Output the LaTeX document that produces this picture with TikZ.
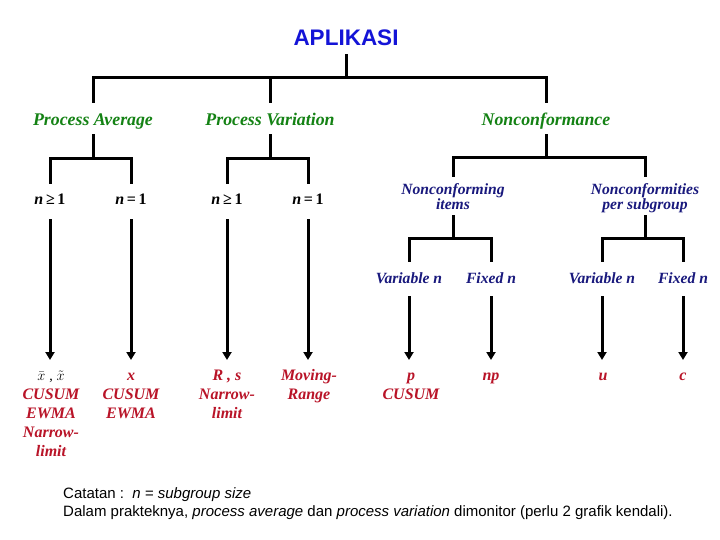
\documentclass[tikz,border=0pt]{standalone}
\usepackage{fontspec}
\setmainfont{Liberation Serif}
\setsansfont{Liberation Sans}
\usetikzlibrary{arrows.meta}
\definecolor{aplblue}{RGB}{20,20,215}
\definecolor{grn}{RGB}{20,130,20}
\definecolor{navy}{RGB}{25,25,125}
\definecolor{dred}{RGB}{185,20,40}
\tikzset{
  conn/.style={line width=3pt},
  arr/.style={line width=3pt,-{Triangle[width=9pt,length=8pt]}},
  toplab/.style={font=\sffamily\bfseries\fontsize{22.5}{25}\selectfont,text=aplblue,inner sep=0pt,anchor=base,text depth=8pt},
  cat/.style={font=\bfseries\itshape\fontsize{17.8}{20}\selectfont,text=grn,inner sep=0pt,anchor=base,text height=23pt,text depth=8pt},
  nlab/.style={font=\bfseries\fontsize{16}{18}\selectfont,inner sep=0pt,anchor=base,text height=21pt,text depth=14pt},
  sub/.style={font=\bfseries\itshape\fontsize{15.6}{15}\selectfont,text=navy,inner sep=0pt,align=center,anchor=north},
  leaf/.style={font=\bfseries\itshape\fontsize{15.6}{18}\selectfont,text=navy,inner sep=0pt,anchor=base,text height=21.5pt,text depth=12.5pt},
  res/.style={font=\bfseries\itshape\fontsize{16}{19}\selectfont,text=dred,inner sep=0pt,outer ysep=8pt,align=center,anchor=north},
  note/.style={font=\sffamily\fontsize{15}{18}\selectfont,inner sep=0pt,align=left,anchor=north west},
}
\newcommand{\topstrut}{\rule{0pt}{12pt}}
\begin{document}
\begin{tikzpicture}[x=1pt,y=-1pt]
\useasboundingbox[fill=white] (0,0) rectangle (720,540);
% root
\node[toplab] (apl) at (346,46) {APLIKASI};
% categories
\node[cat] (pa) at (93,126) {Process Average};
\node[cat] (pv) at (270,126) {Process Variation};
\node[cat] (nc) at (546,126) {Nonconformance};
% n labels
\node[nlab] (na1) at (50,205) {\textit{n}\,≥\,1};
\node[nlab] (na2) at (131,205) {\textit{n}\,=\,1};
\node[nlab] (nv1) at (227,205) {\textit{n}\,≥\,1};
\node[nlab] (nv2) at (308,205) {\textit{n}\,=\,1};
% nonconformance subtypes
\node[sub] (ni) at (453,177) {\rule{0pt}{17.5pt}Nonconforming\\items\rule[-5.5pt]{0pt}{5.5pt}};
\node[sub] (np) at (645,177) {\rule{0pt}{17.5pt}Nonconformities\\per subgroup\rule[-5.5pt]{0pt}{5.5pt}};
% leaves
\node[leaf] (v1) at (409,283.5) {Variable n};
\node[leaf] (f1) at (491,283.5) {Fixed n};
\node[leaf] (v2) at (602,283.5) {Variable n};
\node[leaf] (f2) at (683,283.5) {Fixed n};
% results
\node[res] (ra1) at (51,360) {\topstrut{\normalfont\color{black}\fontsize{14}{14}\selectfont$\bar{x}$\;,\;$\tilde{x}$}\\CUSUM\\EWMA\\Narrow-\\limit};
\node[res] (ra2) at (131,360) {\topstrut x\\CUSUM\\EWMA};
\node[res] (rv1) at (227,360) {\topstrut R , s\\Narrow-\\limit};
\node[res] (rv2) at (309,360) {\topstrut Moving-\\Range};
\node[res] (rp) at (411,360) {\topstrut p\\CUSUM};
\node[res] (rnp) at (491,360) {\topstrut np};
\node[res] (ru) at (603,360) {\topstrut u};
\node[res] (rc) at (683,360) {\topstrut c};
% junctions
\coordinate (j0) at (346,78);
\coordinate (ja) at (93,159);
\coordinate (jv) at (270,159);
\coordinate (jn) at (548,158);
\coordinate (ji) at (453,238);
\coordinate (jp) at (645,238);
% tree connectors
\draw[conn] (apl.south) -- (j0);
\draw[conn] (pa.north) |- (j0) -| (nc.north);
\draw[conn] (pv.north) -- (pv.north |- j0);
\draw[conn] (pa.south) -- (ja);
\draw[conn] (na1.north) |- (ja) -| (na2.north);
\draw[conn] (pv.south) -- (jv);
\draw[conn] (nv1.north) |- (jv) -| (nv2.north);
\draw[conn] (nc.south) -- (nc.south |- jn);
\draw[conn] (ni.north) |- (jn) -| (np.north);
\draw[conn] (ni.south) -- (ji);
\draw[conn] (v1.north) |- (ji) -| (f1.north);
\draw[conn] (np.south) -- (jp);
\draw[conn] (v2.north) |- (jp) -| (f2.north);
% arrows
\draw[arr] (na1.south) -- (na1.south |- ra1.north);
\draw[arr] (na2.south) -- (na2.south |- ra2.north);
\draw[arr] (nv1.south) -- (nv1.south |- rv1.north);
\draw[arr] (nv2.south) -- (nv2.south |- rv2.north);
\draw[arr] (v1.south) -- (v1.south |- rp.north);
\draw[arr] (f1.south) -- (f1.south |- rnp.north);
\draw[arr] (v2.south) -- (v2.south |- ru.north);
\draw[arr] (f2.south) -- (f2.south |- rc.north);
% note
\node[note] (note) at (63,487) {Catatan :\ \ \textit{n = subgroup size}\\Dalam prakteknya, \textit{process average} dan \textit{process variation} dimonitor (perlu 2 grafik kendali).};
\end{tikzpicture}
\end{document}
